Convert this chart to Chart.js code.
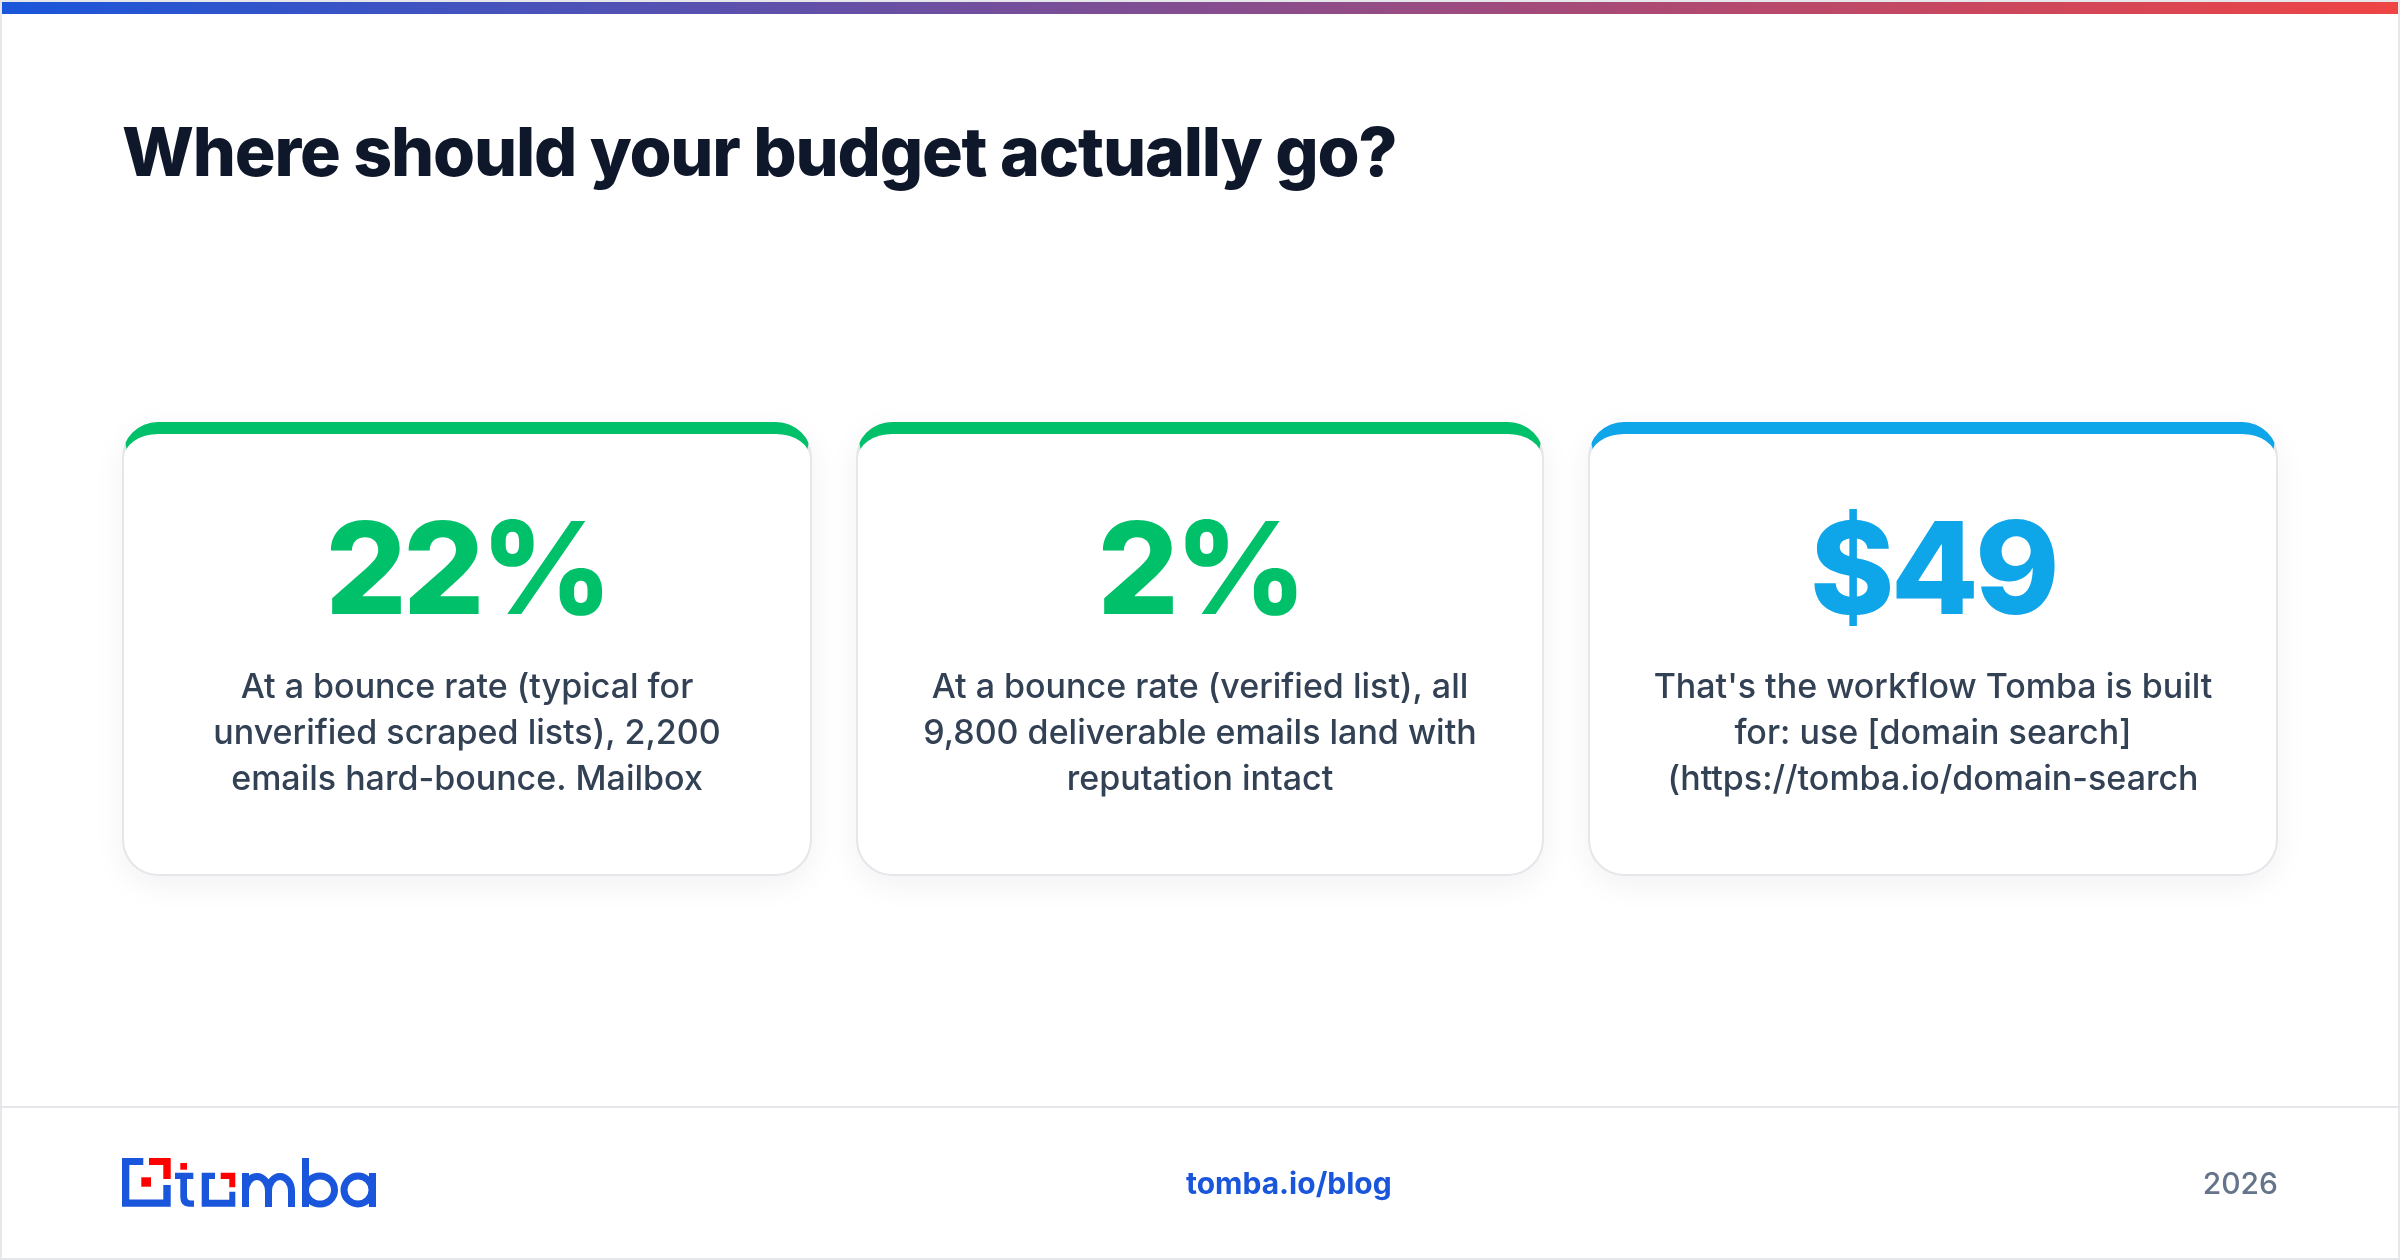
<!DOCTYPE html>
<html><head><meta charset="utf-8">
<script src="https://cdn.jsdelivr.net/npm/chart.js@4/dist/chart.umd.min.js"></script>
<style>
html,body{margin:0;padding:0;background:#fff}
#page{position:relative;width:2400px;height:1260px;overflow:hidden;background:#fff;font-family:Inter,sans-serif}
#frame{position:absolute;inset:0;border:2px solid #e5e7eb;box-sizing:border-box;pointer-events:none}
#bar{position:absolute;left:2px;right:2px;top:2px;height:12px;background:linear-gradient(90deg,#1a56db,#ef4444)}
#title{position:absolute;left:122px;top:106px;margin:0;font-size:68px;line-height:90px;font-weight:800;letter-spacing:-1.2px;color:#0f172a;white-space:nowrap}
canvas{position:absolute;left:0;top:0}
#rule{position:absolute;left:2px;right:2px;top:1106px;height:2px;background:#e5e7eb}
#site{position:absolute;left:1186px;top:1164px;font-size:30px;line-height:38px;font-weight:700;color:#1a56db;white-space:nowrap}
#year{position:absolute;right:122px;top:1164px;font-size:30px;line-height:38px;font-weight:500;color:#64748b;white-space:nowrap}
#logo{position:absolute;left:0;top:0}
</style></head>
<body><div id="page">
<canvas id="c" width="2400" height="1260"></canvas>
<div id="frame"></div><div id="bar"></div>
<h1 id="title"></h1>
<div id="rule"></div>
<svg id="logo" width="2400" height="1260" viewBox="0 0 2400 1260" aria-label="tomba">
<g fill="#1a56db">
<path d="M122 1158H143.3V1165H129.3V1199.5H163.3V1185H170.7V1206.7H122Z"/>
<path d="M201.7 1172.7H215V1179H209V1199.7H229.3V1191.7H235.3V1206.7H201.7Z"/>
<path d="M175 1172.7H193.3V1179H187V1196Q187 1200.5 191 1200.5H194V1206.7H189Q180.3 1206.7 180.3 1197V1179H175Z"/>
</g>
<g fill="#ff0000">
<path d="M149 1158H170.7V1179H163.3V1165H149Z"/>
<rect x="141.3" y="1177.3" width="9.7" height="9.4"/>
<rect x="180.3" y="1163" width="6.7" height="6.7"/>
<path d="M220.7 1172.7H235.3V1187.3H229.3V1179H220.7Z"/>
</g>
<g fill="none" stroke="#1a56db" stroke-width="7">
<path d="M245.5 1173V1207M245.5 1191a11.5 14.5 0 0 1 23 0V1207M268.5 1191a11.5 14.5 0 0 1 23 0V1207"/>
<path d="M305.5 1158V1207"/><ellipse cx="320" cy="1190" rx="14.5" ry="14"/>
<ellipse cx="358" cy="1190" rx="14" ry="14"/><path d="M372.5 1173V1207"/>
</g>
</svg>
<div id="site"></div><div id="year"></div>
</div>
<script>
const headline = "Where should your budget actually go?";
const statLabels = ["22%", "2%", "$49"];
const cardSlots = [1, 1, 1];
const accentColors = ["#00c16a", "#00c16a", "#0ea5e9"];
const cardThickness = [690, 688, 690];
const descriptions = [
  ["At a bounce rate (typical for", "unverified scraped lists), 2,200", "emails hard-bounce. Mailbox"],
  ["At a bounce rate (verified list), all", "9,800 deliverable emails land with", "reputation intact"],
  ["That's the workflow Tomba is built", "for: use [domain search]", "(https://tomba.io/domain-search"]
];
const siteLabel = "tomba.io/blog";
const yearLabel = "2026";

document.getElementById('title').textContent = headline;
document.getElementById('site').textContent = siteLabel;
document.getElementById('year').textContent = yearLabel;

function outer(ctx,b){ctx.roundRect(b.x,b.y,b.w,b.h,36);}
function inner(ctx,b){
  ctx.roundRect(b.x+2,b.y+12,b.w-4,b.h-14,[{x:34,y:24},{x:34,y:24},{x:34,y:34},{x:34,y:34}]);
}
function box(el){return {x:el.x-el.width/2,y:el.y,w:el.width,h:el.base-el.y};}
function eachCard(chart,fn){
  chart.data.datasets.forEach((ds,i)=>fn(chart.getDatasetMeta(i).data[i],i));
}

const cardPainter = {
  id:'cardPainter',
  beforeDatasetsDraw(chart){
    const ctx=chart.ctx;
    eachCard(chart,el=>{
      const b=box(el);
      ctx.save();
      ctx.shadowColor='rgba(15,23,42,0.06)';ctx.shadowBlur=32;ctx.shadowOffsetY=8;
      ctx.fillStyle='#fff';ctx.beginPath();outer(ctx,b);ctx.fill();
      ctx.restore();
    });
  },
  afterDatasetsDraw(chart){
    const ctx=chart.ctx;
    eachCard(chart,(el,i)=>{
      const b=box(el);
      ctx.save();
      ctx.beginPath();outer(ctx,b);inner(ctx,b);
      ctx.fillStyle='#e5e7eb';ctx.fill('evenodd');
      ctx.beginPath();
      ctx.moveTo(b.x,b.y);ctx.lineTo(b.x+b.w,b.y);
      ctx.lineTo(b.x+b.w-10,b.y+60);ctx.lineTo(b.x+10,b.y+60);ctx.closePath();
      ctx.clip();
      ctx.beginPath();outer(ctx,b);inner(ctx,b);
      ctx.fillStyle=accentColors[i];ctx.fill('evenodd');
      ctx.restore();

      ctx.save();
      ctx.textAlign='center';ctx.textBaseline='alphabetic';
      ctx.fillStyle=accentColors[i];
      ctx.font='800 128px Inter';
      ctx.letterSpacing='-3.84px';
      ctx.fillText(statLabels[i],el.x,b.y+192);
      ctx.letterSpacing='0px';
      ctx.fillStyle='#334155';
      ctx.font='500 34px Inter';
      descriptions[i].forEach((t,k)=>ctx.fillText(t,el.x,b.y+276+k*46));
      ctx.restore();
    });
  }
};

new Chart(document.getElementById('c'),{
  type:'bar',
  data:{labels:statLabels,datasets:cardSlots.map((v,i)=>({
    data:cardSlots.map((s,k)=>k===i?v:null),
    backgroundColor:'#ffffff',borderColor:'#e5e7eb',borderWidth:2,borderRadius:36,borderSkipped:false,inflateAmount:0,barThickness:cardThickness[i],stack:'cards'
  }))},
  options:{
    responsive:false,animation:false,devicePixelRatio:1,
    layout:{padding:{left:100.5,right:100.5,top:422,bottom:384}},
    plugins:{legend:{display:false},tooltip:{enabled:false},title:{display:false}},
    scales:{x:{display:false,offset:true,stacked:true},y:{display:false,stacked:true,min:0,max:1}}
  },
  plugins:[cardPainter]
});
</script>
</body></html>
